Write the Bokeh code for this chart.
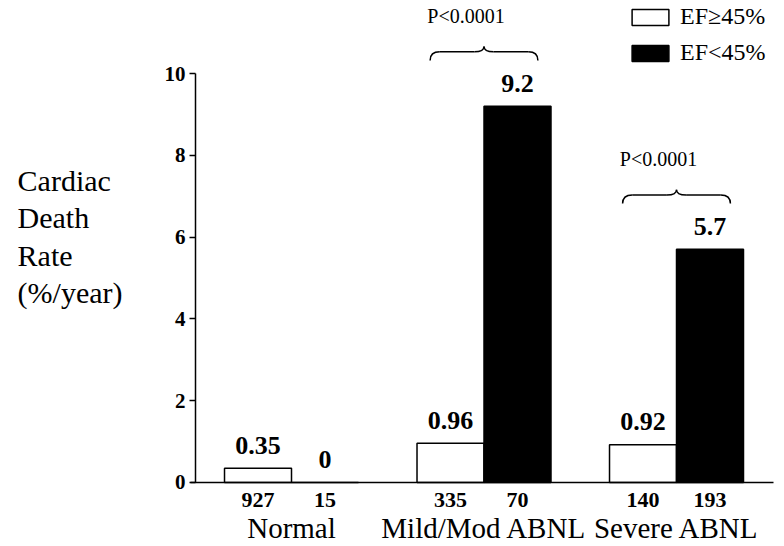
from bokeh.plotting import figure
from bokeh.models import (ColumnDataSource, Range1d, LinearAxis, FixedTicker,
                          Legend, LegendItem)
from bokeh.transform import dodge
from bokeh.core.properties import value
from bokeh.embed import file_html
from bokeh.resources import INLINE

# ---------------- data ----------------
groups = ["Normal", "Mild/Mod ABNL", "Severe ABNL"]
ef_high_rate = [0.35, 0.96, 0.92]      # EF>=45%
ef_low_rate = [0.0, 9.2, 5.7]          # EF<45%
ef_high_n = ["927", "335", "140"]
ef_low_n = ["15", "70", "193"]
series_labels = ["EF\u226545%", "EF<45%"]
p_groups = ["Mild/Mod ABNL", "Severe ABNL"]
p_texts = ["P<0.0001", "P<0.0001"]
y_ticks = [0, 2, 4, 6, 8, 10]
y_label = ["Cardiac", "Death", "Rate", "(%/year)"]

SERIF = value("Liberation Serif")
idx = list(range(len(groups)))

src = ColumnDataSource(dict(
    x=idx, group=groups,
    high=ef_high_rate, low=ef_low_rate,
    high_lbl=[f"{v:g}" for v in ef_high_rate],
    low_lbl=[f"{v:g}" for v in ef_low_rate],
    high_n=ef_high_n, low_n=ef_low_n,
))

p = figure(width=784, height=546, output_backend="svg", toolbar_location=None,
           x_range=Range1d(-1.5117, 2.561), y_range=Range1d(-1.565, 11.785),
           x_axis_location=None, y_axis_location=None, min_border=0,
           outline_line_color=None, background_fill_color="white",
           border_fill_color="white")
p.xgrid.visible = False
p.ygrid.visible = False

off = 0.174
bw = 0.348
r_high = p.vbar(x=dodge("x", -off), top="high", bottom=0, width=bw, source=src,
                fill_color="white", line_color="black", line_width=1.5)
r_low = p.vbar(x=dodge("x", off), top="low", bottom=0, width=bw, source=src,
               fill_color="black", line_color="black", line_width=1.5)

# axes
yaxis = LinearAxis(fixed_location=-0.4987, bounds=(0, 10),
                   ticker=FixedTicker(ticks=y_ticks, minor_ticks=[]),
                   major_tick_out=6, major_tick_in=0, minor_tick_out=0,
                   axis_line_width=1.5, major_tick_line_width=1.5,
                   major_label_text_font="Liberation Serif",
                   major_label_text_font_style="bold",
                   major_label_text_font_size="21px",
                   major_label_text_color="black",
                   major_label_standoff=4)
p.add_layout(yaxis, "left")
xaxis = LinearAxis(fixed_location=0, bounds=(-0.5247, 2.504),
                   ticker=FixedTicker(ticks=[], minor_ticks=[]),
                   major_tick_out=0, major_tick_in=0, minor_tick_out=0,
                   major_label_text_font_size="0px",
                   axis_line_width=1.5)
p.add_layout(xaxis, "below")

# value labels
common = dict(source=src, text_font=SERIF, text_font_style="bold",
              text_align="center", text_baseline="middle", text_color="black")
p.text(x=dodge("x", -off), y="high", text="high_lbl", text_font_size="26px",
       y_offset=-23, **common)
p.text(x=dodge("x", off), y="low", text="low_lbl", text_font_size="26px",
       y_offset=-23, **common)
# n labels
p.text(x=dodge("x", -off), y=0, text="high_n", text_font_size="22px",
       y_offset=18, **common)
p.text(x=dodge("x", off), y=0, text="low_n", text_font_size="22px",
       y_offset=18, **common)
# group names
p.text(x="x", y=0, text="group", source=src, text_font=SERIF,
       text_font_size="29px", text_align="center", text_baseline="middle",
       y_offset=46, text_color="black")

# braces with P values
bx, by = [], []
q = dict(x0=[], y0=[], x1=[], y1=[], cx=[], cy=[])
s = dict(x0=[], y0=[], x1=[], y1=[])
hw, d = 0.28, 0.05
for g, t in zip(p_groups, p_texts):
    i = groups.index(g)
    v = ef_low_rate[i]
    c = i
    b, h, pk = v + 1.12, v + 1.33, v + 1.46
    L, R = c - hw, c + hw
    for (x0, y0, x1, y1, cx, cy) in [
        (L, b, L + d, h, L, h),
        (c - d, h, c, pk, c, h),
        (c, pk, c + d, h, c, h),
        (R - d, h, R, b, R, h),
    ]:
        q["x0"].append(x0); q["y0"].append(y0); q["x1"].append(x1)
        q["y1"].append(y1); q["cx"].append(cx); q["cy"].append(cy)
    for (x0, x1) in [(L + d, c - d), (c + d, R - d)]:
        s["x0"].append(x0); s["y0"].append(h); s["x1"].append(x1); s["y1"].append(h)
    bx.append(c); by.append(v + 2.2)

p.quadratic(source=ColumnDataSource(q), x0="x0", y0="y0", x1="x1", y1="y1",
            cx="cx", cy="cy", line_color="black", line_width=1.5)
p.segment(source=ColumnDataSource(s), x0="x0", y0="y0", x1="x1", y1="y1",
          line_color="black", line_width=1.5)
p.text(x=bx, y=by, text=p_texts, text_font=SERIF, text_font_size="20px",
       text_align="center", text_baseline="middle", x_offset=-18,
       text_color="black")

# y axis title, one text per line
n_lines = len(y_label)
line_gap = 37.5
p.text(x=[-1.423] * n_lines, y=[6.01] * n_lines, text=y_label,
       y_offset=[(k - (n_lines - 1) / 2) * line_gap for k in range(n_lines)],
       text_font=SERIF, text_font_size="30px", text_align="left",
       text_baseline="middle", text_color="black")

# legend
legend = Legend(items=[LegendItem(label=series_labels[0], renderers=[r_high]),
                       LegendItem(label=series_labels[1], renderers=[r_low])],
                location=(627, 480), padding=0, margin=0, spacing=9,
                glyph_width=46, glyph_height=20, label_height=20,
                label_standoff=7, label_text_font="Liberation Serif",
                label_text_font_size="24px", label_text_color="black",
                background_fill_alpha=0, border_line_alpha=0)
p.add_layout(legend, "center")

open("out.html", "w").write(file_html(p, INLINE))
